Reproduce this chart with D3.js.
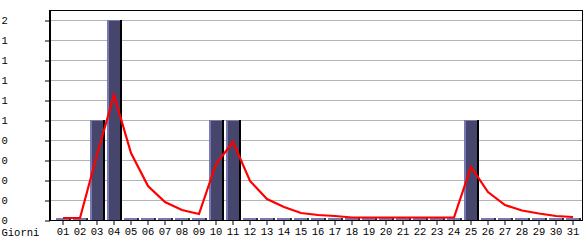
<!DOCTYPE html>
<html>
<head>
<meta charset="utf-8">
<script src="https://cdn.jsdelivr.net/npm/d3@7"></script>
<style>
  html, body { margin: 0; padding: 0; background: #fff; }
  svg { display: block; }
  text { font-family: "Liberation Mono", "DejaVu Sans Mono", monospace; font-size: 10.5px; fill: #000; }
</style>
</head>
<body>
<svg id="chart" width="585" height="240"></svg>
<script>
const days = ["01","02","03","04","05","06","07","08","09","10","11","12","13","14","15","16",
              "17","18","19","20","21","22","23","24","25","26","27","28","29","30","31"];
const visits = [0,0,1,2,0,0,0,0,0,1,1,0,0,0,0,0,0,0,0,0,0,0,0,0,1,0,0,0,0,0,0];
const trend = [0.01,0.01,0.64,1.24,0.66,0.33,0.17,0.09,0.05,0.55,0.77,0.38,0.20,0.12,0.06,0.04,
               0.03,0.015,0.015,0.015,0.015,0.015,0.015,0.015,0.52,0.27,0.14,0.085,0.055,0.03,0.02];
const yTickValues = [0,0.2,0.4,0.6,0.8,1.0,1.2,1.4,1.6,1.8,2.0];
const yTickLabels = ["0","0","0","0","0","1","1","1","1","1","2"];
const xAxisTitle = "Giorni";

const svg = d3.select("#chart");
const plot = {left: 50, right: 582, top: 10, bottom: 220};

const x = d3.scaleBand().domain(days).range([54.5, 581.5]).padding(0);
const y = d3.scaleLinear().domain([0, 2]).range([plot.bottom, 20]);

// grid
svg.append("g").selectAll("line")
  .data(yTickValues.filter(v => v > 0))
  .join("line")
  .attr("x1", plot.left).attr("x2", plot.right)
  .attr("y1", d => Math.round(y(d)) + 0.5).attr("y2", d => Math.round(y(d)) + 0.5)
  .attr("stroke", "#b4b4b4").attr("stroke-width", 1);

// bars
const barW = 15;
const bars = svg.append("g");
days.forEach((d, i) => {
  const v = visits[i];
  const x0 = Math.round(x(d) + (x.bandwidth() - barW) / 2);
  if (v > 0) {
    const yt = Math.round(y(v));
    const h = plot.bottom - yt;
    bars.append("rect").attr("x", x0).attr("y", yt).attr("width", barW).attr("height", h).attr("fill", "#46466c");
    bars.append("rect").attr("x", x0).attr("y", yt).attr("width", 2).attr("height", h).attr("fill", "#7a78b2");
    bars.append("rect").attr("x", x0).attr("y", yt).attr("width", barW - 2).attr("height", 1).attr("fill", "#7a78b2");
    bars.append("rect").attr("x", x0 + barW - 2).attr("y", yt).attr("width", 2).attr("height", h).attr("fill", "#000");
  } else {
    bars.append("rect").attr("x", x0).attr("y", plot.bottom - 2).attr("width", barW - 2).attr("height", 2).attr("fill", "#7a78b2");
    bars.append("rect").attr("x", x0 + barW - 2).attr("y", plot.bottom - 2).attr("width", 2).attr("height", 2).attr("fill", "#333");
  }
});

// trend line
const line = d3.line()
  .x((d, i) => x(days[i]) + x.bandwidth() / 2)
  .y(d => y(d) - 1);
svg.append("path").datum(trend)
  .attr("d", line)
  .attr("fill", "none").attr("stroke", "#ff0000").attr("stroke-width", 2.2);

// frame
svg.append("rect")
  .attr("x", plot.left + 0.5).attr("y", plot.top + 0.5)
  .attr("width", plot.right - plot.left).attr("height", plot.bottom - plot.top)
  .attr("fill", "none").attr("stroke", "#000").attr("stroke-width", 1);
svg.append("line").attr("x1", plot.left - 0.5).attr("x2", plot.left - 0.5)
  .attr("y1", plot.top).attr("y2", plot.bottom + 1).attr("stroke", "#000");
svg.append("line").attr("x1", plot.left).attr("x2", plot.right)
  .attr("y1", plot.bottom + 0.5).attr("y2", plot.bottom + 0.5).attr("stroke", "#000");

// axes
const xAxis = svg.append("g").attr("transform", `translate(0,${plot.bottom + 1})`)
  .call(d3.axisBottom(x).tickSize(4).tickPadding(3));
xAxis.select(".domain").remove();
xAxis.selectAll("line").attr("stroke", "#000");
xAxis.selectAll("text").attr("font-size", null).attr("font-family", null).attr("dy", "0.71em");

const yAxis = svg.append("g").attr("transform", `translate(${plot.left},0)`)
  .call(d3.axisLeft(y).tickValues(yTickValues).tickFormat((d, i) => yTickLabels[i]).tickSize(5));
yAxis.select(".domain").remove();
yAxis.selectAll("line").attr("stroke", "#000").attr("transform", "translate(0,0.5)");
yAxis.selectAll("text").attr("font-size", null).attr("font-family", null)
  .attr("text-anchor", "start").attr("x", -plot.left + 1.5);
yAxis.attr("font-size", null).attr("font-family", null);
xAxis.attr("font-size", null).attr("font-family", null);

svg.append("text").attr("x", 1.5).attr("y", 236).text(xAxisTitle);
</script>
</body>
</html>
